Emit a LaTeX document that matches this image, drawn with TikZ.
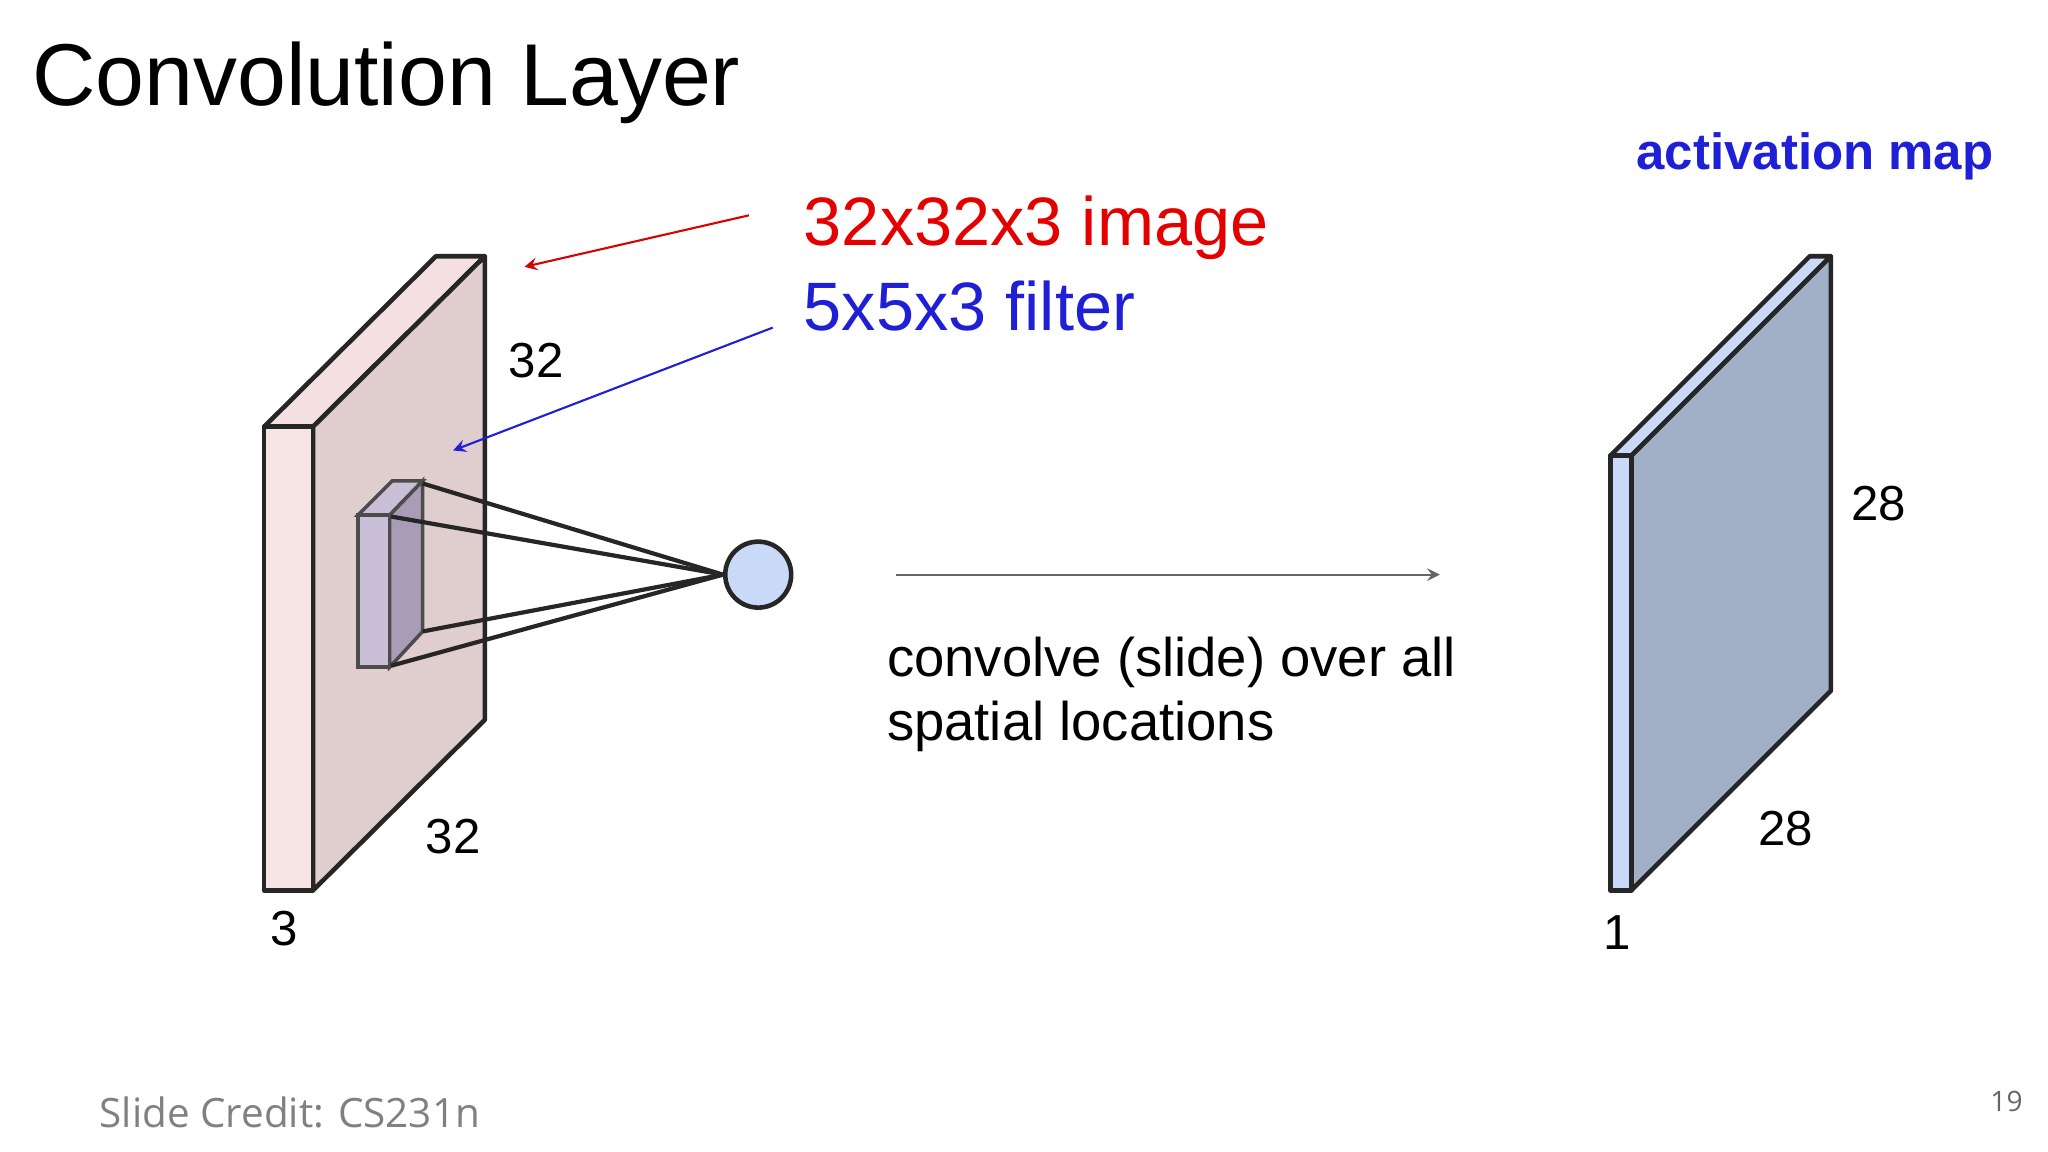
\documentclass[tikz,border=0pt]{standalone}
\usepackage{fontspec}
\setmainfont{Liberation Sans}
\newfontfamily\credit{Open Sans}
\begin{document}
\begin{tikzpicture}[x=0.01321cm,y=-0.01321cm,
  edge/.style={draw=black!85,line width=1.3pt,line join=round},
  lab/.style={font=\fontsize{14}{16}\selectfont},
  ln/.style={line width=1.2pt}]
\definecolor{pfront}{HTML}{F6E4E4}
\definecolor{ptop}{HTML}{F4E0E0}
\definecolor{pside}{HTML}{E0CDCD}
\definecolor{bfront}{HTML}{C9DAF8}
\definecolor{bside}{HTML}{A2B0C7}
\definecolor{fl}{HTML}{C9C0D8}
\definecolor{fd}{HTML}{A99CB6}
\definecolor{myblue}{HTML}{1F1FD6}
\useasboundingbox (0,0) rectangle (1550.4,872);
\node[anchor=base west,inner sep=0,font=\fontsize{25}{30}\selectfont] (title) at (24,80) {Convolution Layer};
% left slab
\fill[ptop,edge] (200,323) -- (237,323) -- (367,194) -- (330,194) -- cycle;
\fill[pside,edge] (237,323) -- (367,194) -- (367,545) -- (237,674) -- cycle;
\fill[pfront,edge] (200,323) rectangle (237,674);
% filter
\fill[fl,draw=black!70,line width=1pt] (271,390) -- (295,390) -- (320,364) -- (297,364) -- cycle;
\fill[fd,draw=black!70,line width=1pt] (295,390) -- (320,364) -- (320,478) -- (295,505) -- cycle;
\fill[fl,draw=black!70,line width=1pt] (271,390) rectangle (295,505);
\node[circle,draw=black!85,line width=1.3pt,fill=bfront,minimum size=0.66cm,inner sep=0] (n) at (574,435) {};
\coordinate (c1) at (320,366); \coordinate (c2) at (296,391);
\coordinate (c3) at (296,504); \coordinate (c4) at (320,478);
\foreach \c in {c1,c2,c3,c4} \draw[ln,black!85] (\c) -- (n.west);
% labels
\node[lab] (l32a) at (406,273) {32};
\node[lab] (l32b) at (343,633) {32};
\node[lab] (l3) at (215,703) {3};
\node[anchor=base west,inner sep=0,font=\fontsize{19.5}{24}\selectfont,text=red!90!black] (img) at (608,186) {32x32x3 image};
\node[anchor=base west,inner sep=0,font=\fontsize{19.5}{24}\selectfont,text=myblue] (flt) at (608,250) {5x5x3 filter};
\coordinate (ra) at (567,163); \coordinate (rb) at (397,202);
\draw[red!85!black,line width=0.6pt,-stealth] (ra) -- (rb);
\coordinate (ba) at (585,248); \coordinate (bb) at (343,341);
\draw[myblue,line width=0.6pt,-stealth] (ba) -- (bb);
\coordinate (ga) at (678,435); \coordinate (gb) at (1090,435);
\draw[black!60,line width=0.6pt,-stealth] (ga) -- (gb);
\node[anchor=north west,inner sep=0,align=left,font=\fontsize{15.5}{18}\selectfont] (conv) at (671,482) {convolve (slide) over all\\spatial locations};
% right slab
\fill[bfront,edge] (1219,345) -- (1235,345) -- (1386,194) -- (1370,194) -- cycle;
\fill[bside,edge] (1235,345) -- (1386,194) -- (1386,523) -- (1235,674) -- cycle;
\fill[bfront,edge] (1219,345) rectangle (1235,674);
\node[font=\bfseries\fontsize{14.5}{18}\selectfont,text=myblue] (act) at (1374,118) {activation map};
\node[lab] (r28a) at (1422,381) {28};
\node[lab] (r28b) at (1352,627) {28};
\node[lab] (r1) at (1224,706) {1};
\node[anchor=west,inner sep=0,font=\credit\fontsize{11.5}{14}\selectfont,text=black!50] (cr) at (75,842) {Slide Credit: CS231n};
\node[inner sep=0,font=\credit\fontsize{8}{10}\selectfont,text=black!60] (pg) at (1519,834) {19};
\end{tikzpicture}
\end{document}
